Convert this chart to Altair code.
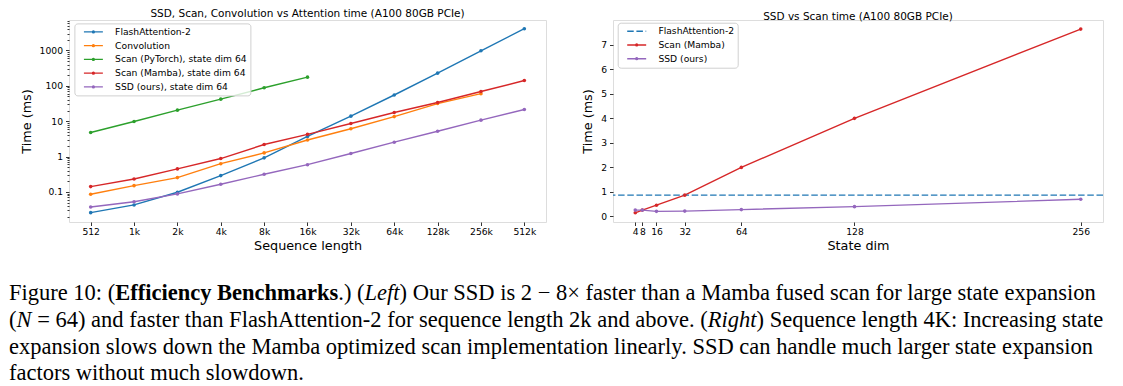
import altair as alt
import pandas as pd

# ---------------- data ----------------
seq_len = [512, 1024, 2048, 4096, 8192, 16384, 32768, 65536, 131072, 262144, 524288]
flash_attn2 = [0.026, 0.043, 0.098, 0.29, 0.92, 3.7, 13.9, 55, 228, 975, 4100]
convolution = [0.086, 0.151, 0.255, 0.63, 1.27, 2.95, 6.1, 13.5, 31.5, 60]
scan_pytorch = [4.8, 9.8, 20.5, 42, 88, 176]
scan_mamba = [0.142, 0.233, 0.448, 0.88, 2.19, 4.25, 8.6, 17.6, 33.7, 69, 141]
ssd = [0.0376, 0.053, 0.088, 0.165, 0.316, 0.59, 1.22, 2.55, 5.2, 10.7, 21.4]

left_names = ["FlashAttention-2", "Convolution", "Scan (PyTorch), state dim 64",
              "Scan (Mamba), state dim 64", "SSD (ours), state dim 64"]
left_colors = ["#1f77b4", "#ff7f0e", "#2ca02c", "#d62728", "#9467bd"]

state_dim = [4, 8, 16, 32, 64, 128, 256]
scan_mamba_state = [0.15, 0.26, 0.46, 0.87, 2.0, 4.0, 7.64]
ssd_state = [0.26, 0.26, 0.21, 0.22, 0.28, 0.40, 0.70]
flash_attn2_4k = [0.87]

right_names = ["FlashAttention-2", "Scan (Mamba)", "SSD (ours)"]
right_colors = ["#1f77b4", "#d62728", "#9467bd"]

right_ticks_y = [0, 1, 2, 3, 4, 5, 6, 7]

caption_lines = [
    [("Figure 10: (", "normal", "normal"), ("Efficiency Benchmarks", "bold", "normal"),
     (".) (", "normal", "normal"), ("Left", "normal", "italic"),
     (") Our SSD is 2 \u2212 8\u00d7 faster than a Mamba fused scan for large state expansion", "normal", "normal")],
    [("(", "normal", "normal"), ("N", "normal", "italic"),
     (" = 64) and faster than FlashAttention-2 for sequence length 2k and above. (", "normal", "normal"),
     ("Right", "normal", "italic"), (") Sequence length 4K: Increasing state", "normal", "normal")],
    [("expansion slows down the Mamba optimized scan implementation linearly. SSD can handle much larger state expansion", "normal", "normal")],
    [("factors without much slowdown.", "normal", "normal")],
]

# ---------------- styling ----------------
FONT = "DejaVu Sans"
SERIF = "Liberation Serif"
W1, W2, H = 477, 490, 202
SPACING = 67
CAP_FS = 22.5
CAP_X = -60
CAP_Y0 = 78
CAP_DY = 26.8

# Times-compatible advance widths (1/1000 em) for offsets of styled runs
_REG = {" ": 250, "(": 333, ")": 333, ".": 250, ":": 278, "=": 564, "-": 333,
        "0": 500, "1": 500, "2": 500, "4": 500, "6": 500,
        "A": 722, "F": 556,
        "a": 444, "b": 500, "c": 444, "d": 500, "e": 444, "f": 333, "g": 500, "h": 500,
        "i": 278, "k": 500, "l": 278, "n": 500, "o": 500, "q": 500, "r": 333, "s": 389,
        "t": 278, "u": 500, "v": 500}
_BOLD = {" ": 250, "B": 667, "E": 667, "a": 500, "c": 444, "e": 444, "f": 333, "h": 556,
         "i": 278, "k": 556, "m": 833, "n": 556, "r": 444, "s": 389, "y": 500}
_ITAL = {"L": 556, "N": 667, "R": 611, "e": 444, "f": 278, "g": 500, "h": 500, "i": 278, "t": 278}


def run_width(text, weight, style):
    table = _BOLD if weight == "bold" else (_ITAL if style == "italic" else _REG)
    return sum(table.get(ch, 500) for ch in text) / 1000.0


one = pd.DataFrame({"k": [0]})


def caption_layers():
    layers = []
    for li, segs in enumerate(caption_lines):
        x_em = 0.0
        for text, weight, style in segs:
            lead = len(text) - len(text.lstrip(" "))
            shown = text.lstrip(" ")
            layers.append(
                alt.Chart(one).mark_text(
                    text=shown, align="left", baseline="alphabetic", font=SERIF,
                    fontSize=CAP_FS, fontWeight=weight, fontStyle=style, color="black"
                ).encode(x=alt.value(CAP_X + (x_em + lead * 0.25) * CAP_FS),
                         y=alt.value(H + CAP_Y0 + li * CAP_DY))
            )
            if len(segs) > 1:
                x_em += run_width(text, weight, style)
    return layers


def axis(**kw):
    base = dict(grid=False, domain=False, tickColor="black", tickWidth=0.8,
                labelColor="black", titleColor="black", labelFont=FONT, titleFont=FONT,
                labelFontSize=9.2, titleFontSize=12.8, titleFontWeight="normal",
                labelOverlap=False, labelFlush=False)
    base.update(kw)
    return alt.Axis(**base)


dot_path = "M-2,0L2,0M-0.2,0A0.2,0.2,0,1,0,0.2,0A0.2,0.2,0,1,0,-0.2,0"
line_path = "M-2,0L2,0"

legend_common = dict(title=None, orient="none", symbolSize=90, symbolStrokeWidth=1.4,
                     symbolOffset=10.5, labelOffset=16.2, labelFont=FONT, labelFontSize=9.2,
                     labelColor="black", strokeColor="#d0d0d0",
                     fillColor="rgba(255,255,255,0.8)", cornerRadius=3, padding=3,
                     rowPadding=2.75, labelLimit=400)

title_common = dict(font=FONT, fontSize=10.5, fontWeight="normal", color="black",
                    anchor="middle", frame="group", offset=-2.5)

# ---------------- left panel ----------------
left_df = pd.DataFrame([
    {"series": nm, "seq": n, "time": v}
    for nm, vals in zip(left_names, [flash_attn2, convolution, scan_pytorch, scan_mamba, ssd])
    for n, v in zip(seq_len, vals)
])

minor_y = [k * 10.0 ** e for e in range(-2, 4) for k in range(1, 10)]
minor_y = [v for v in minor_y if 0.0142 <= v <= 7200]
is_major = "abs(log(datum.value)/LN10 - round(log(datum.value)/LN10)) < 1e-6"

lx = alt.X("seq:Q",
           scale=alt.Scale(type="log", base=2, domain=[2 ** 8.5, 2 ** 19.5], nice=False),
           axis=axis(values=seq_len, title="Sequence length", tickSize=3.5, labelPadding=2,
                     titlePadding=2.5,
                     labelExpr="datum.value < 1000 ? '' + datum.value : (datum.value/1024) + 'k'"))
ly = alt.Y("time:Q",
           scale=alt.Scale(type="log", domain=[0.01416, 7244], nice=False),
           axis=axis(values=minor_y, title="Time (ms)", labelPadding=3, titlePadding=6,
                     tickSize={"condition": {"test": is_major, "value": 3.5}, "value": 2},
                     labelExpr=is_major + " ? format(datum.value, '~g') : ''"))
lcolor = alt.Color("series:N", scale=alt.Scale(domain=left_names, range=left_colors),
                   legend=alt.Legend(symbolType=dot_path, legendX=5.4, legendY=3.4,
                                     **legend_common))

left_lines = alt.Chart(left_df).mark_line(strokeWidth=1.4).encode(x=lx, y=ly, color=lcolor)
left_pts = alt.Chart(left_df).mark_point(filled=True, size=13, opacity=1).encode(
    x=lx, y=ly, color=lcolor)

left = alt.layer(left_lines, left_pts, *caption_layers()).properties(
    width=W1, height=H,
    title=alt.TitleParams("SSD, Scan, Convolution vs Attention time (A100 80GB PCIe)",
                          **title_common))

# ---------------- right panel ----------------
right_df = pd.DataFrame(
    [{"method": "Scan (Mamba)", "dim": d, "time": v} for d, v in zip(state_dim, scan_mamba_state)]
    + [{"method": "SSD (ours)", "dim": d, "time": v} for d, v in zip(state_dim, ssd_state)]
)
fa_df = pd.DataFrame({"method": ["FlashAttention-2"] * len(flash_attn2_4k), "time": flash_attn2_4k})

rx = alt.X("dim:Q", scale=alt.Scale(domain=[-8.6, 268.6], nice=False, zero=False),
           axis=axis(values=state_dim, title="State dim", tickSize=3.5, labelPadding=2,
                     titlePadding=2.5, format="d"))
ry = alt.Y("time:Q", scale=alt.Scale(domain=[-0.225, 8.01], nice=False, zero=False),
           axis=axis(values=right_ticks_y, title="Time (ms)", tickSize=3.5, labelPadding=3,
                     titlePadding=6, format="d"))
rcolor = alt.Color("method:N", scale=alt.Scale(domain=right_names, range=right_colors),
                   legend=alt.Legend(
                       symbolType={"expr": f"datum.label === 'FlashAttention-2' ? '{line_path}' : '{dot_path}'"},
                       symbolDash={"expr": "datum.label === 'FlashAttention-2' ? [6.5, 2.7] : []"},
                       legendX=4.7, legendY=2.7, **legend_common))

right_lines = alt.Chart(right_df).mark_line(strokeWidth=1.4).encode(x=rx, y=ry, color=rcolor)
right_pts = alt.Chart(right_df).mark_point(filled=True, size=13, opacity=1).encode(
    x=rx, y=ry, color=rcolor)
right_rule = alt.Chart(fa_df).mark_rule(strokeWidth=1.3, strokeDash=[6.5, 2.7]).encode(
    y=ry, color=rcolor)

right = alt.layer(right_lines, right_rule, right_pts).properties(
    width=W2, height=H,
    title=alt.TitleParams("SSD vs Scan time (A100 80GB PCIe)", **title_common))

chart = alt.hconcat(left, right, spacing=SPACING, bounds="flush").resolve_scale(
    color="independent"
).configure_view(
    stroke="black", strokeWidth=0.9
).configure(background="white", padding=0)

chart.save("out.html", embed_options={"renderer": "svg", "actions": False})
